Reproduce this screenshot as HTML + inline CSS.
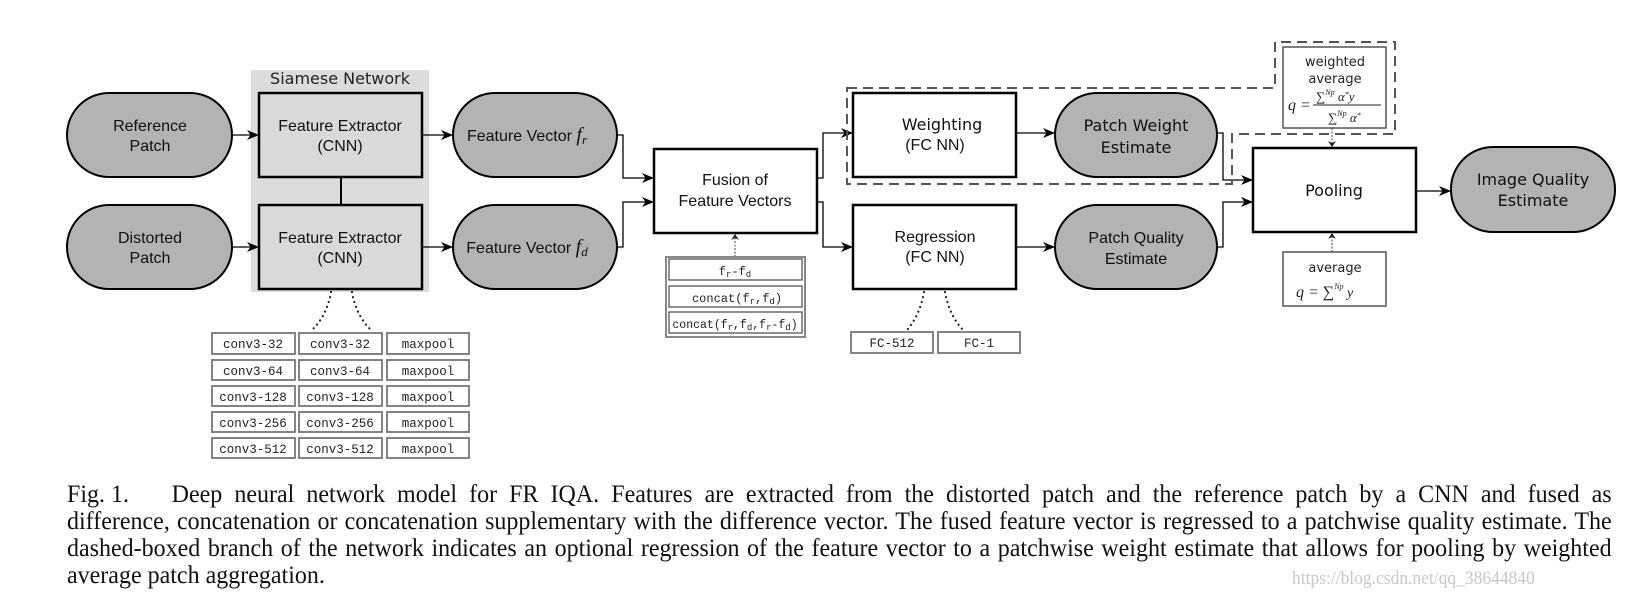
<!DOCTYPE html>
<html><head><meta charset="utf-8"><style>
html,body{margin:0;padding:0;background:#fff;}
body{width:1636px;height:601px;position:relative;overflow:hidden;}
svg{position:absolute;left:0;top:0;}
.cap{position:absolute;left:67px;width:1609px;transform:scaleX(0.96);transform-origin:0 0;font-family:"Liberation Serif",serif;font-size:25px;color:#111;text-align:justify;text-align-last:justify;white-space:nowrap;line-height:27px;}
.fig{display:inline-block;width:109px;text-align:left;text-align-last:left;}
.wm{position:absolute;left:1292px;font-family:"Liberation Serif",serif;font-size:19px;color:#c8c8c8;transform:scaleX(0.92);transform-origin:0 0;}
</style></head><body>
<svg width="1636" height="601" viewBox="0 0 1636 601" font-family="Liberation Sans, sans-serif">
<defs>
<marker id="ar" viewBox="0 0 12 10" refX="12" refY="5" markerWidth="12" markerHeight="10" markerUnits="userSpaceOnUse" orient="auto">
<path d="M0,0 L12,5 L0,10 L3.5,5 Z" fill="#000"/></marker>
<marker id="sa" viewBox="0 0 6 8" refX="6" refY="4" markerWidth="6" markerHeight="8" markerUnits="userSpaceOnUse" orient="auto">
<path d="M0,0 L6,4 L0,8 L2,4 Z" fill="#222"/></marker>
</defs>
<rect x="251" y="70" width="178" height="222" fill="#dcdcdc"/>
<text x="340" y="84" font-size="16" text-anchor="middle" fill="#222" font-family="DejaVu Sans, sans-serif">Siamese Network</text>
<g stroke="#000" stroke-width="2" fill="#b3b3b3">
<rect x="67" y="93" width="165" height="84" rx="42"/>
<rect x="67" y="205" width="165" height="84" rx="42"/>
<rect x="453" y="93" width="164" height="84" rx="42"/>
<rect x="453" y="205" width="164" height="84" rx="42"/>
<rect x="1055" y="93" width="162" height="84" rx="42"/>
<rect x="1055" y="205" width="162" height="84" rx="42"/>
<rect x="1451" y="147" width="164" height="85" rx="42"/>
</g>
<g stroke="#000" stroke-width="2.5" fill="#d9d9d9">
<rect x="259" y="93" width="163" height="84"/>
<rect x="259" y="205" width="163" height="84"/>
</g>
<line x1="341" y1="177" x2="341" y2="205" stroke="#000" stroke-width="2"/>
<g stroke="#000" stroke-width="2.5" fill="#fff">
<rect x="654" y="149" width="163" height="84"/>
<rect x="853" y="93" width="163" height="84"/>
<rect x="853" y="205" width="163" height="84"/>
<rect x="1253" y="148" width="163" height="84"/>
</g>
<g stroke="#000" stroke-width="1.3" fill="none" marker-end="url(#ar)">
<line x1="232" y1="135" x2="259" y2="135"/>
<line x1="232" y1="247" x2="259" y2="247"/>
<line x1="422" y1="135" x2="453" y2="135"/>
<line x1="422" y1="247" x2="453" y2="247"/>
<polyline points="617,135 623,135 623,178 654,178"/>
<polyline points="617,247 623,247 623,202 654,202"/>
<polyline points="817,178 823,178 823,133 853,133"/>
<polyline points="817,202 823,202 823,247 853,247"/>
<line x1="1016" y1="133" x2="1055" y2="133"/>
<line x1="1016" y1="247" x2="1055" y2="247"/>
<polyline points="1217,133 1223,133 1223,180 1253,180"/>
<polyline points="1217,247 1223,247 1223,202 1253,202"/>
<line x1="1416" y1="191" x2="1451" y2="191"/>
</g>
<path d="M847,88 L1275,88 L1275,42 L1395,42 L1395,134 L1232,134 L1232,184 L847,184 Z" fill="none" stroke="#555" stroke-width="2" stroke-dasharray="10,6"/>
<g stroke="#555" stroke-width="1.5" fill="#fff">
<rect x="1283" y="47" width="103" height="81"/>
<rect x="1283" y="252" width="103" height="54"/>
</g>
<g stroke="#444" stroke-width="1" stroke-dasharray="2,1.5" marker-end="url(#sa)">
<line x1="1332" y1="128" x2="1332" y2="147"/>
<line x1="1332" y1="252" x2="1332" y2="233"/>
<line x1="735" y1="257" x2="735" y2="234"/>
</g>
<g font-family="DejaVu Sans, sans-serif" font-size="13" fill="#222" text-anchor="middle">
<text x="1335" y="66">weighted</text>
<text x="1335" y="83">average</text>
<text x="1335" y="272">average</text>
</g>
<g font-family="Liberation Serif, serif" font-style="italic" fill="#222">
<text x="1288" y="110" font-size="16">q =</text>
<line x1="1313" y1="105" x2="1381" y2="105" stroke="#222" stroke-width="1"/>
<text x="1316" y="101" font-size="13">∑<tspan font-size="8" dy="-6">Np</tspan><tspan dy="6"> α</tspan><tspan font-size="8" dy="-4">*</tspan><tspan dy="4">y</tspan></text>
<text x="1328" y="122" font-size="13">∑<tspan font-size="8" dy="-6">Np</tspan><tspan dy="6"> α</tspan><tspan font-size="8" dy="-4">*</tspan></text>
<text x="1296" y="297" font-size="16">q = ∑<tspan font-size="8" dy="-8">Np</tspan><tspan dy="8" font-size="14"> y</tspan></text>
</g>
<rect x="666" y="257" width="139" height="80" fill="#fff" stroke="#888" stroke-width="2"/>
<g stroke="#555" stroke-width="1.3" fill="#fff">
<rect x="669" y="259" width="133" height="21"/>
<rect x="669" y="286" width="133" height="21"/>
<rect x="669" y="312" width="133" height="21"/>
</g>
<g font-family="Liberation Mono, monospace" font-size="12" fill="#222" text-anchor="middle">
<text x="735" y="275">f<tspan font-size="9" dy="2">r</tspan><tspan dy="-2">-f</tspan><tspan font-size="9" dy="2">d</tspan></text>
<text x="737" y="302">concat(f<tspan font-size="9" dy="2">r</tspan><tspan dy="-2">,f</tspan><tspan font-size="9" dy="2">d</tspan><tspan dy="-2">)</tspan></text>
<text x="735" y="328" font-size="11.5">concat(f<tspan font-size="9" dy="2">r</tspan><tspan dy="-2">,f</tspan><tspan font-size="9" dy="2">d</tspan><tspan dy="-2">,f</tspan><tspan font-size="9" dy="2">r</tspan><tspan dy="-2">-f</tspan><tspan font-size="9" dy="2">d</tspan><tspan dy="-2">)</tspan></text>
</g>
<g stroke="#222" stroke-width="2.2" stroke-dasharray="0.1,5" stroke-linecap="round" fill="none">
<path d="M331,292 Q327,315 313,329"/>
<path d="M352,292 Q356,315 370,329"/>
<path d="M924,292 Q920,315 907,330"/>
<path d="M945,292 Q949,315 963,330"/>
</g>
<g stroke="#777" stroke-width="1.8" fill="#fff">
<rect x="212" y="333" width="83" height="21"/><rect x="299" y="333" width="83" height="21"/><rect x="387" y="333" width="82" height="21"/>
<rect x="212" y="360" width="83" height="20"/><rect x="299" y="360" width="83" height="20"/><rect x="387" y="360" width="82" height="20"/>
<rect x="212" y="386" width="83" height="20"/><rect x="299" y="386" width="83" height="20"/><rect x="387" y="386" width="82" height="20"/>
<rect x="212" y="412" width="83" height="20"/><rect x="299" y="412" width="83" height="20"/><rect x="387" y="412" width="82" height="20"/>
<rect x="212" y="438" width="83" height="20"/><rect x="299" y="438" width="83" height="20"/><rect x="387" y="438" width="82" height="20"/>
<rect x="851" y="332" width="82" height="21"/><rect x="938" y="332" width="82" height="21"/>
</g>
<g font-family="Liberation Mono, monospace" font-size="12.5" fill="#222" text-anchor="middle">
<text x="253" y="348">conv3-32</text><text x="340" y="348">conv3-32</text><text x="428" y="348">maxpool</text>
<text x="253" y="375">conv3-64</text><text x="340" y="375">conv3-64</text><text x="428" y="375">maxpool</text>
<text x="253" y="401">conv3-128</text><text x="340" y="401">conv3-128</text><text x="428" y="401">maxpool</text>
<text x="253" y="427">conv3-256</text><text x="340" y="427">conv3-256</text><text x="428" y="427">maxpool</text>
<text x="253" y="453">conv3-512</text><text x="340" y="453">conv3-512</text><text x="428" y="453">maxpool</text>
<text x="892" y="347">FC-512</text><text x="979" y="347">FC-1</text>
</g>
<g font-size="16" fill="#111" text-anchor="middle">
<text x="150" y="131">Reference</text><text x="150" y="151">Patch</text>
<text x="150" y="243">Distorted</text><text x="150" y="263">Patch</text>
<text x="340" y="131">Feature Extractor</text><text x="340" y="151">(CNN)</text>
<text x="340" y="243">Feature Extractor</text><text x="340" y="263">(CNN)</text>
<text x="527" y="141">Feature Vector <tspan font-family="Liberation Serif, serif" font-style="italic" font-size="20">f</tspan><tspan font-family="Liberation Serif, serif" font-style="italic" font-size="13" dy="3">r</tspan></text>
<text x="527" y="253">Feature Vector <tspan font-family="Liberation Serif, serif" font-style="italic" font-size="20">f</tspan><tspan font-family="Liberation Serif, serif" font-style="italic" font-size="13" dy="3">d</tspan></text>
<text x="735" y="185">Fusion of</text><text x="735" y="206">Feature Vectors</text>
<text x="942" y="130" font-family="DejaVu Sans, sans-serif">Weighting</text><text x="935" y="150">(FC NN)</text>
<text x="935" y="242">Regression</text><text x="935" y="262">(FC NN)</text>
<text x="1136" y="131" font-family="DejaVu Sans, sans-serif">Patch Weight</text><text x="1136" y="153" font-family="DejaVu Sans, sans-serif">Estimate</text>
<text x="1136" y="243">Patch Quality</text><text x="1136" y="264">Estimate</text>
<text x="1334" y="196" font-family="DejaVu Sans, sans-serif">Pooling</text>
<text x="1533" y="185" font-family="DejaVu Sans, sans-serif">Image Quality</text><text x="1533" y="206" font-family="DejaVu Sans, sans-serif">Estimate</text>
</g>
</svg>
<div class="cap" style="top:481px"><span class="fig">Fig. 1.</span>Deep neural network model for FR IQA. Features are extracted from the distorted patch and the reference patch by a CNN and fused as</div>
<div class="cap" style="top:508px">difference, concatenation or concatenation supplementary with the difference vector. The fused feature vector is regressed to a patchwise quality estimate. The</div>
<div class="cap" style="top:535px">dashed-boxed branch of the network indicates an optional regression of the feature vector to a patchwise weight estimate that allows for pooling by weighted</div>
<div class="cap" style="top:562px;text-align-last:left">average patch aggregation.</div>
<div class="wm" style="top:568px">https://blog.csdn.net/qq_38644840</div>
</body></html>
